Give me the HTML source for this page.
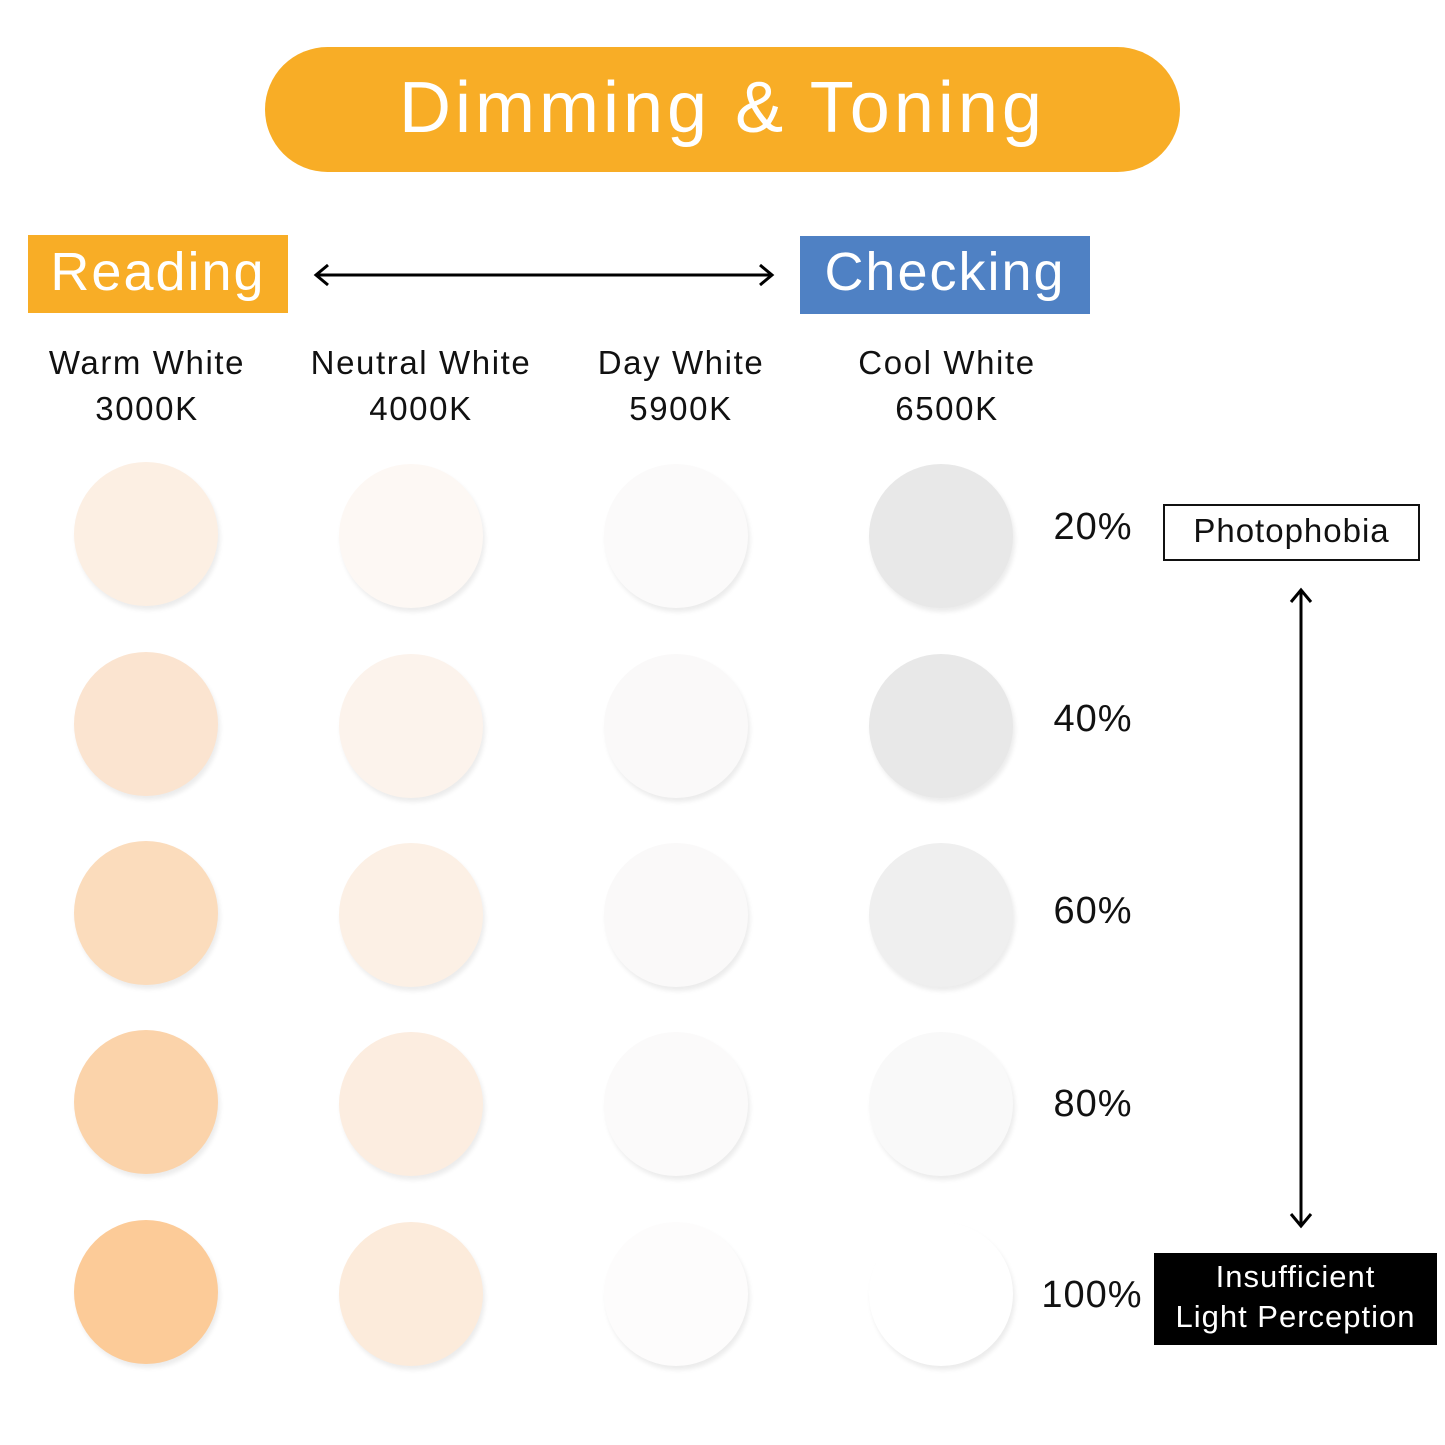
<!DOCTYPE html>
<html><head><style>
body{margin:0;width:1445px;height:1445px;background:#fff;position:relative;overflow:hidden;font-family:"Liberation Sans","DejaVu Sans",sans-serif;color:#111}
.a{position:absolute}
.title{left:265px;top:47px;width:915px;height:125px;border-radius:63px;background:#f8ad26;color:#fff;font-size:72px;text-align:center;line-height:122px;letter-spacing:4px}
.c{position:absolute;width:144px;height:144px;border-radius:50%;box-shadow:2px 4px 5px rgba(0,0,0,0.08)}
.lab{text-align:center;font-size:33px;line-height:46px;width:300px;letter-spacing:1.6px}
.pct{font-size:38px;width:120px;text-align:center;letter-spacing:1px}
</style></head><body>
<div class="a title">Dimming &amp; Toning</div>
<div class="a" style="left:28px;top:235px;width:260px;height:78px;background:#f8ad26;color:#fff;font-size:54px;text-align:center;line-height:74px;letter-spacing:2px">Reading</div>
<div class="a" style="left:800px;top:236px;width:290px;height:78px;background:#4f81c4;color:#fff;font-size:54px;text-align:center;line-height:72px;letter-spacing:2px">Checking</div>
<svg class="a" style="left:0;top:0" width="1445" height="1445">
<line x1="318" y1="275" x2="770" y2="275" stroke="#000" stroke-width="3"/>
<polyline points="328,265 316,275 328,285" fill="none" stroke="#000" stroke-width="3"/>
<polyline points="760,265 772,275 760,285" fill="none" stroke="#000" stroke-width="3"/>
<line x1="1301" y1="592" x2="1301" y2="1224" stroke="#000" stroke-width="3"/>
<polyline points="1291,602 1301,590 1311,602" fill="none" stroke="#000" stroke-width="3"/>
<polyline points="1291,1214 1301,1226 1311,1214" fill="none" stroke="#000" stroke-width="3"/>
</svg>
<div class="a lab" style="left:-3px;top:340px">Warm White<br>3000K</div>
<div class="a lab" style="left:271px;top:340px">Neutral White<br>4000K</div>
<div class="a lab" style="left:531px;top:340px">Day White<br>5900K</div>
<div class="a lab" style="left:797px;top:340px">Cool White<br>6500K</div>

<div class="c" style="left:74px;top:462px;background:#fcefe3"></div>
<div class="c" style="left:74px;top:652px;background:#fbe4d0"></div>
<div class="c" style="left:74px;top:841px;background:#fbdcbc"></div>
<div class="c" style="left:74px;top:1030px;background:#fbd3aa"></div>
<div class="c" style="left:74px;top:1220px;background:#fccb98"></div>

<div class="c" style="left:339px;top:464px;background:#fdf8f4"></div>
<div class="c" style="left:339px;top:654px;background:#fcf3ec"></div>
<div class="c" style="left:339px;top:843px;background:#fcf0e5"></div>
<div class="c" style="left:339px;top:1032px;background:#fcede0"></div>
<div class="c" style="left:339px;top:1222px;background:#fcebdb"></div>

<div class="c" style="left:604px;top:464px;background:#fbfafa"></div>
<div class="c" style="left:604px;top:654px;background:#faf9f9"></div>
<div class="c" style="left:604px;top:843px;background:#faf9f9"></div>
<div class="c" style="left:604px;top:1032px;background:#fbfafa"></div>
<div class="c" style="left:604px;top:1222px;background:#fdfcfc"></div>

<div class="c" style="left:869px;top:464px;background:#e8e8e8"></div>
<div class="c" style="left:869px;top:654px;background:#e8e8e8"></div>
<div class="c" style="left:869px;top:843px;background:#efefef"></div>
<div class="c" style="left:869px;top:1032px;background:#f9f9f9"></div>
<div class="c" style="left:869px;top:1222px;background:#ffffff"></div>

<div class="a pct" style="left:1033px;top:506px">20%</div>
<div class="a pct" style="left:1033px;top:698px">40%</div>
<div class="a pct" style="left:1033px;top:890px">60%</div>
<div class="a pct" style="left:1033px;top:1083px">80%</div>
<div class="a pct" style="left:1032px;top:1274px">100%</div>

<div class="a" style="left:1163px;top:504px;width:253px;height:53px;border:2px solid #111;font-size:33px;text-align:center;line-height:50px;letter-spacing:1px">Photophobia</div>
<div class="a" style="left:1154px;top:1253px;width:283px;height:92px;background:#000;color:#fff;font-size:31px;text-align:center;line-height:40px;padding-top:4px;box-sizing:border-box;letter-spacing:1px">Insufficient<br>Light Perception</div>
</body></html>
